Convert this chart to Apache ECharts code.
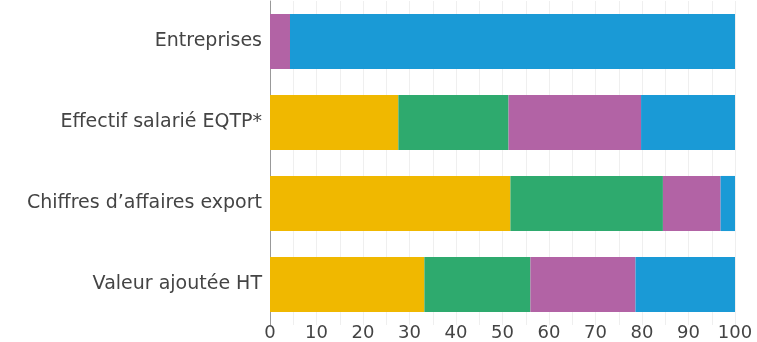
<!DOCTYPE html>
<html><head><meta charset="utf-8">
<script src="https://cdn.jsdelivr.net/npm/echarts@6/dist/echarts.min.js"></script>
<style>html,body{margin:0;padding:0;background:#fff}#c{width:757px;height:342px}</style>
</head><body><div id="c"></div>
<script>
const categories = ["Entreprises", "Effectif salarié EQTP*", "Chiffres d’affaires export", "Valeur ajoutée HT"];
const seriesYellow = [0, 27.6, 51.7, 33.2];
const seriesGreen = [0, 23.7, 32.8, 22.8];
const seriesPurple = [4.3, 28.5, 12.4, 22.6];
const seriesBlue = [95.7, 20.2, 3.1, 21.4];
const xTicks = [0, 10, 20, 30, 40, 50, 60, 70, 80, 90, 100];

const colors = ["#F0B800", "#2EAA6E", "#B263A5", "#1A9AD6"];
const data = [seriesYellow, seriesGreen, seriesPurple, seriesBlue];
const chart = echarts.init(document.getElementById('c'), null, {renderer: 'canvas'});
chart.setOption({
  animation: false,
  grid: {left: 270, right: 22, top: 1, bottom: 10, containLabel: false},
  xAxis: {
    type: 'value', min: xTicks[0], max: xTicks[xTicks.length - 1], interval: 10,
    axisLine: {show: false}, axisTick: {show: false},
    axisLabel: {color: '#444', fontSize: 18, fontFamily: 'DejaVu Sans', margin: -1},
    splitLine: {show: true, lineStyle: {color: '#efefef', width: 1}},
    minorTick: {show: false, splitNumber: 2},
    minorSplitLine: {show: true, lineStyle: {color: '#efefef', width: 1}}
  },
  yAxis: {
    type: 'category', data: categories, inverse: true,
    axisLine: {show: true, lineStyle: {color: '#999', width: 1}},
    axisTick: {show: false},
    axisLabel: {color: '#444', fontSize: 19, fontFamily: 'DejaVu Sans', margin: 8}
  },
  series: data.map((d, i) => ({
    type: 'bar', stack: 'total', data: d, barCategoryGap: '32%',
    itemStyle: {color: colors[i]}
  }))
});
</script></body></html>
